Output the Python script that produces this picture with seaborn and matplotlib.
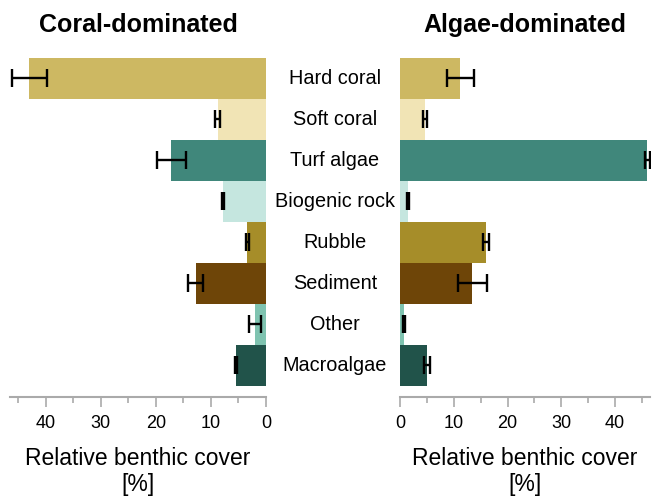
import numpy as np
import pandas as pd
import matplotlib
matplotlib.use("Agg")
import matplotlib.pyplot as plt
import seaborn as sns
from matplotlib.ticker import MultipleLocator

# categories and values
categories = ["Hard coral", "Soft coral", "Turf algae", "Biogenic rock",
              "Rubble", "Sediment", "Other", "Macroalgae"]
colors = ["#CDB862", "#F1E4B5", "#40877B", "#C5E6DF",
          "#A68D29", "#6E4508", "#7FC3B0", "#21534A"]

coral_mean = [43.0, 8.8, 17.2, 7.8, 3.4, 12.8, 2.0, 5.4]
coral_err = [3.2, 0.5, 2.6, 0.2, 0.3, 1.3, 1.1, 0.2]
algae_mean = [11.2, 4.6, 46.0, 1.5, 16.0, 13.4, 0.8, 5.0]
algae_err = [2.5, 0.4, 0.5, 0.2, 0.5, 2.7, 0.15, 0.5]

titles = ["Coral-dominated", "Algae-dominated"]
xlabel = "Relative benthic cover\n[%]"

sns.set_style("white")
plt.rcParams["font.family"] = ["Liberation Sans", "DejaVu Sans"]
plt.rcParams["text.color"] = "black"
plt.rcParams["xtick.labelcolor"] = "black"
plt.rcParams["axes.labelcolor"] = "black"

fig = plt.figure(figsize=(6.56, 4.96), dpi=100)
ax_l = fig.add_axes([10 / 656, 1 - 397 / 496, 256 / 656, 339 / 496])
ax_r = fig.add_axes([400 / 656, 1 - 397 / 496, 250 / 656, 339 / 496])

xmax = 46.5
for ax, means, errs, title in [(ax_l, coral_mean, coral_err, titles[0]),
                               (ax_r, algae_mean, algae_err, titles[1])]:
    df = pd.DataFrame({"category": categories, "cover": means})
    sns.barplot(data=df, x="cover", y="category", hue="category",
                palette=colors, width=1.0, errorbar=None, legend=False,
                orient="h", ax=ax, saturation=1, linewidth=0,
                edgecolor="none")
    ax.errorbar(means, np.arange(len(categories)), xerr=errs, fmt="none",
                ecolor="black", elinewidth=1.7, capsize=6.8, capthick=1.7)
    ax.set_ylim(7.77, -0.5)
    ax.set_xlim(0, xmax)
    ax.set_ylabel("")
    ax.set_yticks([])
    ax.set_xlabel(xlabel, fontsize=16.5, labelpad=11, linespacing=1.15)
    ax.set_title(title, fontsize=18, fontweight="bold", pad=19)
    ax.xaxis.set_major_locator(MultipleLocator(10))
    ax.xaxis.set_minor_locator(MultipleLocator(5))
    ax.tick_params(axis="x", which="major", length=7, width=1.2,
                   color="#AAAAAA", labelsize=13, pad=6, bottom=True)
    ax.tick_params(axis="x", which="minor", length=4, width=1.2,
                   color="#AAAAAA", bottom=True)
    for s in ["top", "left", "right"]:
        ax.spines[s].set_visible(False)
    ax.spines["bottom"].set_color("#AAAAAA")
    ax.spines["bottom"].set_linewidth(1.5)

ax_l.invert_xaxis()

# category labels in the gap between the panels
for i, cat in enumerate(categories):
    ax_l.annotate(cat, xy=(0, i), xycoords="data", xytext=(69, 0),
                  textcoords="offset pixels", ha="center", va="center",
                  fontsize=14.3)

fig.savefig("out.png", dpi=100)
